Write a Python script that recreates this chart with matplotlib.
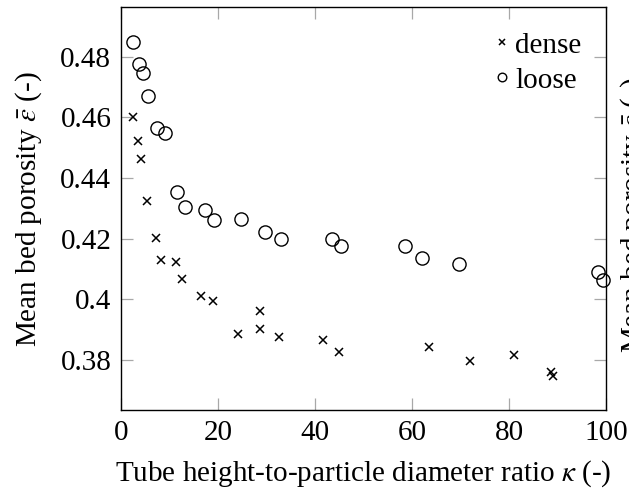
import numpy as np
import matplotlib
matplotlib.use("Agg")
import matplotlib.pyplot as plt

plt.rcParams['font.family'] = ['Liberation Serif', 'DejaVu Serif']
plt.rcParams['mathtext.fontset'] = 'stix'
plt.rcParams['font.size'] = 21

# values
dense_kappa = [2.5, 3.6, 4.1, 5.4, 7.2, 8.3, 11.3, 12.6, 16.5, 19.0, 24.2,
               28.6, 28.7, 32.6, 41.6, 45.0, 63.6, 72.0, 81.0, 88.7, 89.1]
dense_eps = [0.4602, 0.4521, 0.4462, 0.4323, 0.4201, 0.4131, 0.4122, 0.4068,
             0.4011, 0.3995, 0.3887, 0.3962, 0.3901, 0.3877, 0.3866, 0.3826,
             0.3844, 0.3795, 0.3817, 0.3760, 0.3746]

loose_kappa = [2.5, 3.7, 4.5, 5.6, 7.4, 9.1, 11.5, 13.2, 17.3, 19.2, 24.7,
               29.7, 32.9, 43.6, 45.4, 58.5, 62.1, 69.6, 98.3, 99.3]
loose_eps = [0.4850, 0.4776, 0.4747, 0.4670, 0.4564, 0.4549, 0.4353, 0.4305,
             0.4295, 0.4262, 0.4264, 0.4221, 0.4198, 0.4198, 0.4177, 0.4177,
             0.4137, 0.4117, 0.4090, 0.4064]

xticks = [0, 20, 40, 60, 80, 100]
yticks = [0.38, 0.40, 0.42, 0.44, 0.46, 0.48]
ytick_labels = ['0.38', '0.4', '0.42', '0.44', '0.46', '0.48']

fig = plt.figure(figsize=(6.29, 4.88), dpi=100)
ax = fig.add_axes([0.1924, 0.1598, 0.7710, 0.8252])

ax.plot(dense_kappa, dense_eps, 'x', color='black', markersize=6,
        markeredgewidth=1.1, label='dense', clip_on=False)
ax.plot(loose_kappa, loose_eps, 'o', color='black', markerfacecolor='none',
        markersize=9.5, markeredgewidth=1.0, label='loose', clip_on=False)

ax.set_xlim(0, 100)
ax.set_ylim(0.3635, 0.4963)
ax.set_xticks(xticks)
ax.set_yticks(yticks)
ax.set_yticklabels(ytick_labels)
ax.tick_params(direction='in', length=8.5, width=0.9, color='#a8a8a8',
               top=True, right=True, pad=7)
for s in ax.spines.values():
    s.set_linewidth(1.0)

ax.set_xlabel(r'Tube height-to-particle diameter ratio $\kappa$ (-)', labelpad=9)
ax.set_ylabel(r'Mean bed porosity $\bar{\varepsilon}$ (-)', labelpad=12)

ax.legend(loc='upper right', frameon=False, markerscale=0.65,
          handlelength=0.4, handletextpad=0.25, borderaxespad=0.5,
          borderpad=0.35, labelspacing=0.3)

# neighbouring panel's label, cut off at the figure edge
fig.text(0.983, 0.56, r'Mean bed porosity $\bar{\varepsilon}$ (-)',
         rotation=90, ha='left', va='center', fontsize=21)

fig.savefig('out.png', dpi=100)
